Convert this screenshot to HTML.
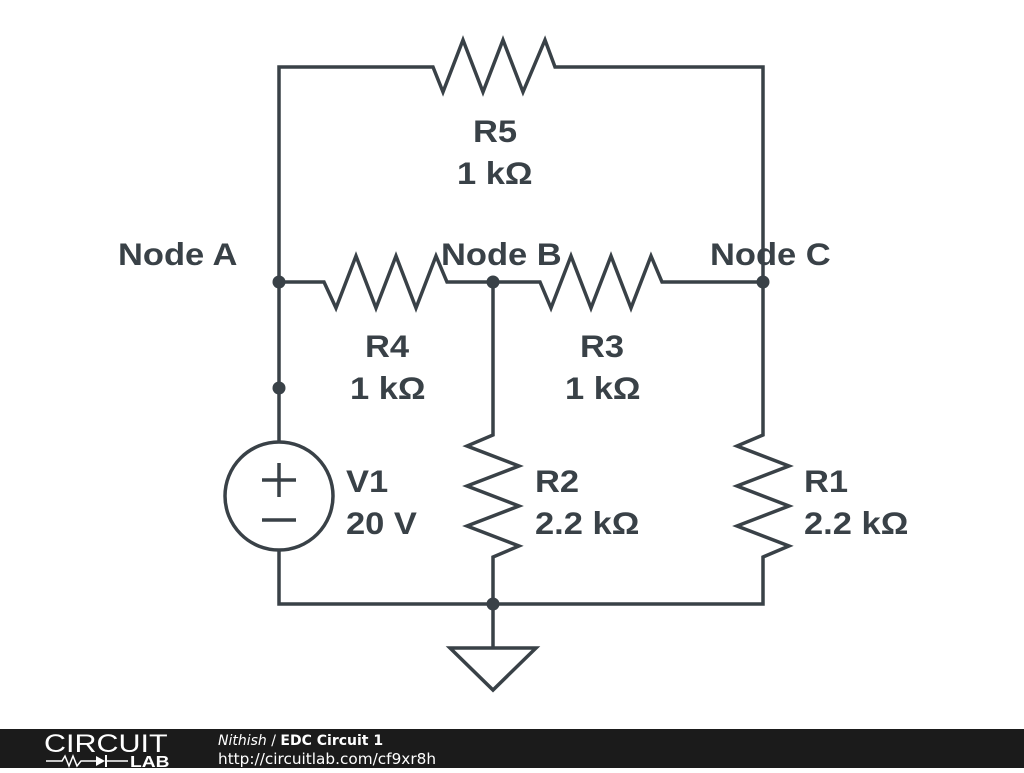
<!DOCTYPE html>
<html><head><style>
body{margin:0;width:1024px;height:768px;background:#fff;overflow:hidden;font-family:"Liberation Sans",sans-serif}
</style></head><body>
<svg width="1024" height="768" viewBox="0 0 1024 768" xmlns="http://www.w3.org/2000/svg">
<g fill="none" stroke="#394147" stroke-width="3.5" stroke-linejoin="miter">
<polyline points="279,442 279,282 279,67 433,67 443,92 463,40 483,92 503,40 523,92 545,40 555,67 763,67 763,282"/>
<polyline points="279,282 324,282 336,308 356,256 376,308 396,256 416,308 436,256 447,282 540,282 551,308 571,256 591,308 611,256 631,308 651,256 662,282 763,282"/>
<polyline points="493,282 493,435 467,446 519,466 467,486 519,506 467,526 519,546 493,557 493,648"/>
<polyline points="763,282 763,435 737,446 789,466 737,486 789,506 737,526 789,546 763,557 763,604 279,604 279,550"/>
<circle cx="279" cy="496" r="54"/>
<line x1="262" y1="480" x2="296" y2="480"/><line x1="279" y1="463" x2="279" y2="497"/>
<line x1="262" y1="520" x2="296" y2="520"/>
<polygon points="450,648 536,648 493,690"/>
</g>
<g fill="#394147">
<circle cx="279" cy="282" r="6.5"/><circle cx="279" cy="388" r="6.5"/><circle cx="493" cy="282" r="6.5"/><circle cx="763" cy="282" r="6.5"/><circle cx="493" cy="604" r="6.5"/>
</g>
<g fill="#394147" font-family="Liberation Sans, sans-serif" font-weight="bold" font-size="30">
<text transform="translate(473,142) scale(1.15,1.05)">R5</text><text transform="translate(457,184) scale(1.15,1.05)">1 kΩ</text>
<text transform="translate(118,265) scale(1.15,1.05)">Node A</text><text transform="translate(441,265) scale(1.15,1.05)">Node B</text><text transform="translate(710,265) scale(1.15,1.05)">Node C</text>
<text transform="translate(365,357) scale(1.15,1.05)">R4</text><text transform="translate(350,399) scale(1.15,1.05)">1 kΩ</text>
<text transform="translate(580,357) scale(1.15,1.05)">R3</text><text transform="translate(565,399) scale(1.15,1.05)">1 kΩ</text>
<text transform="translate(346,492) scale(1.15,1.05)">V1</text><text transform="translate(346,534) scale(1.15,1.05)">20 V</text>
<text transform="translate(535,492) scale(1.15,1.05)">R2</text><text transform="translate(535,534) scale(1.15,1.05)">2.2 kΩ</text>
<text transform="translate(804,492) scale(1.15,1.05)">R1</text><text transform="translate(804,534) scale(1.15,1.05)">2.2 kΩ</text>
</g>
<rect x="0" y="729" width="1024" height="39" fill="#1b1b1b"/>
<text transform="translate(44,752) scale(1.22,1)" fill="#fff" font-size="25" font-family="Liberation Sans, sans-serif">CIRCUIT</text>
<g stroke="#fff" stroke-width="1.5" fill="none"><polyline points="46,761 62,761 65,756 69,766 73,756 77,766 81,761 96,761"/><line x1="106" y1="761" x2="128" y2="761"/></g>
<polygon points="96,756 96,766 105,761" fill="#fff"/><line x1="106" y1="755" x2="106" y2="767" stroke="#fff" stroke-width="2"/>
<text transform="translate(130,767) scale(1.2,1)" fill="#fff" font-size="16" font-weight="bold" font-family="Liberation Sans, sans-serif">LAB</text>
<text x="218" y="745" fill="#fff" font-size="14" font-family="DejaVu Sans, sans-serif"><tspan font-style="italic">Nithish</tspan> / <tspan font-weight="bold">EDC Circuit 1</tspan></text>
<text transform="translate(218,764) scale(1.02,1)" fill="#fff" font-size="15" font-family="DejaVu Sans, sans-serif">http://circuitlab.com/cf9xr8h</text>
</svg>
</body></html>
